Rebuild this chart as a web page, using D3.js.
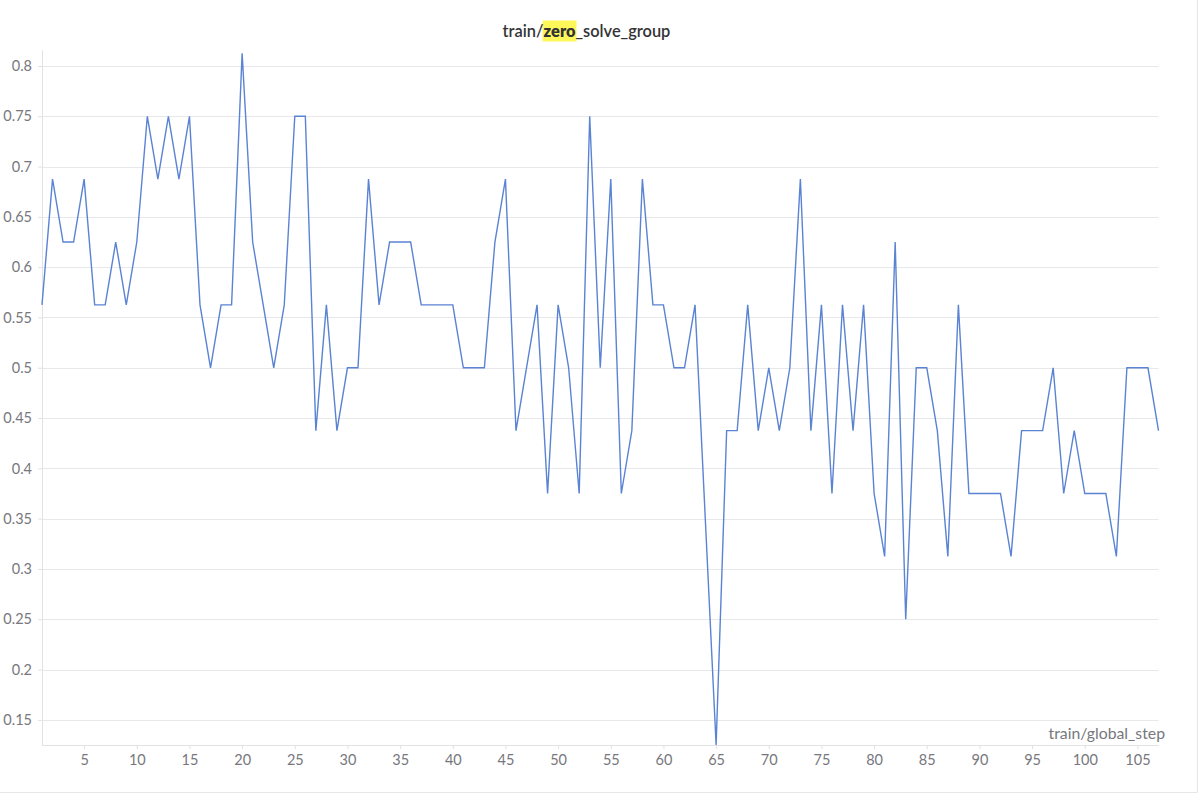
<!DOCTYPE html>
<html>
<head>
<meta charset="utf-8">
<script src="https://cdn.jsdelivr.net/npm/d3@7"></script>
<style>
  html, body { margin: 0; padding: 0; background: #fff; }
  svg { display: block; font-family: Lato, "Noto Sans", sans-serif; }
</style>
</head>
<body>
<svg id="chart" width="1200" height="794"></svg>
<script>
// ---- data ----
const steps = d3.range(1, 108);
const zeroSolveGroup = [
  0.5625, 0.6875, 0.625, 0.625, 0.6875, 0.5625, 0.5625, 0.625, 0.5625, 0.625,   // 1-10
  0.75, 0.6875, 0.75, 0.6875, 0.75, 0.5625, 0.5, 0.5625, 0.5625, 0.8125,        // 11-20
  0.625, 0.5625, 0.5, 0.5625, 0.75, 0.75, 0.4375, 0.5625, 0.4375, 0.5,          // 21-30
  0.5, 0.6875, 0.5625, 0.625, 0.625, 0.625, 0.5625, 0.5625, 0.5625, 0.5625,     // 31-40
  0.5, 0.5, 0.5, 0.625, 0.6875, 0.4375, 0.5, 0.5625, 0.375, 0.5625,             // 41-50
  0.5, 0.375, 0.75, 0.5, 0.6875, 0.375, 0.4375, 0.6875, 0.5625, 0.5625,         // 51-60
  0.5, 0.5, 0.5625, 0.34375, 0.125, 0.4375, 0.4375, 0.5625, 0.4375, 0.5,        // 61-70
  0.4375, 0.5, 0.6875, 0.4375, 0.5625, 0.375, 0.5625, 0.4375, 0.5625, 0.375,    // 71-80
  0.3125, 0.625, 0.25, 0.5, 0.5, 0.4375, 0.3125, 0.5625, 0.375, 0.375,          // 81-90
  0.375, 0.375, 0.3125, 0.4375, 0.4375, 0.4375, 0.5, 0.375, 0.4375, 0.375,      // 91-100
  0.375, 0.375, 0.3125, 0.5, 0.5, 0.5, 0.4375                                   // 101-107
];
const yTicks = [0.15, 0.2, 0.25, 0.3, 0.35, 0.4, 0.45, 0.5, 0.55, 0.6, 0.65, 0.7, 0.75, 0.8];
const xTicks = d3.range(5, 106, 5);
const titleParts = [
  { text: "train/", highlight: false },
  { text: "zero", highlight: true },
  { text: "_solve_group", highlight: false }
];
const xLabel = "train/global_step";

// ---- layout ----
(function () {
const svg = d3.select("#chart");
const pLeft = 42, pRight = 1158.5, pTop = 53.4, pBottom = 745;

const x = d3.scaleLinear().domain([1, 107]).range([pLeft, pRight]);
const y = d3.scaleLinear().domain([0.125, 0.8125]).range([pBottom, pTop]);

// panel border (right & bottom)
svg.append("line").attr("x1", 1197.5).attr("x2", 1197.5).attr("y1", 0).attr("y2", 792.5)
  .attr("stroke", "#e6e6e6").attr("stroke-width", 1);
svg.append("line").attr("x1", 0).attr("x2", 1197.5).attr("y1", 792.5).attr("y2", 792.5)
  .attr("stroke", "#e6e6e6").attr("stroke-width", 1);

// gridlines
svg.append("g").selectAll("line").data(yTicks).join("line")
  .attr("x1", pLeft).attr("x2", pRight)
  .attr("y1", d => Math.round(y(d)) + 0.5).attr("y2", d => Math.round(y(d)) + 0.5)
  .attr("stroke", "#e8e8ea").attr("stroke-width", 1);

// y axis
const yAxis = svg.append("g").attr("transform", `translate(${pLeft},0)`)
  .call(d3.axisLeft(y).tickValues(yTicks).tickSize(4).tickPadding(6).tickFormat(d => String(+d.toFixed(2))));
yAxis.select(".domain").attr("stroke", "#e2e2e4").attr("d", `M0.5,${pTop - 3}V${pBottom + 0.5}`);
yAxis.selectAll(".tick line").attr("stroke", "#e2e2e4");
yAxis.selectAll(".tick text").attr("fill", "#77777d").style("font-size", "14.5px")
  .style("font-family", "Lato, 'Noto Sans', sans-serif");

// x axis
const xAxis = svg.append("g").attr("transform", `translate(0,${pBottom})`)
  .call(d3.axisBottom(x).tickValues(xTicks).tickSize(4).tickPadding(6).tickFormat(d3.format("d")));
xAxis.select(".domain").attr("stroke", "#e2e2e4").attr("d", `M${pLeft},0.5H${pRight}`);
xAxis.selectAll(".tick line").attr("stroke", "#e2e2e4");
xAxis.selectAll(".tick text").attr("fill", "#77777d").style("font-size", "14.5px")
  .style("font-family", "Lato, 'Noto Sans', sans-serif");

// line
const line = d3.line().x((d, i) => x(steps[i])).y(d => y(d));
svg.append("path").datum(zeroSolveGroup)
  .attr("d", line)
  .attr("fill", "none")
  .attr("stroke", "#5a83d3")
  .attr("stroke-width", 1.4)
  .attr("stroke-linejoin", "miter");

// x label with white background
const xl = svg.append("g");
const xlText = xl.append("text")
  .attr("x", 1165).attr("y", 738.5)
  .attr("text-anchor", "end")
  .attr("fill", "#77777d")
  .style("font-size", "15.8px")
  .style("font-family", "Lato, 'Noto Sans', sans-serif")
  .text(xLabel);
const bb = xlText.node().getBBox();
xl.insert("rect", "text").attr("x", bb.x - 4).attr("y", bb.y - 1).attr("width", bb.width + 8).attr("height", bb.height + 2)
  .attr("fill", "#fff");

// title with highlight
const titleG = svg.append("g");
const title = titleG.append("text")
  .attr("y", 37)
  .attr("fill", "#333336")
  .style("font-size", "16.4px")
  .style("font-family", "Lato, 'Noto Sans', sans-serif")
  .style("font-weight", 600);
titleParts.forEach(p => {
  title.append("tspan").text(p.text).style("font-weight", p.highlight ? 800 : 600);
});
const tw = title.node().getComputedTextLength();
const tx = 586.5 - tw / 2;
title.attr("x", tx);
const spans = title.selectAll("tspan").nodes();
const startW = spans[0].getComputedTextLength();
const hw = spans[1].getComputedTextLength();
titleG.insert("rect", "text")
  .attr("x", tx + startW - 1).attr("y", 20.5)
  .attr("width", hw + 2).attr("height", 21)
  .attr("fill", "#fdf75a");
})();
</script>
</body>
</html>
